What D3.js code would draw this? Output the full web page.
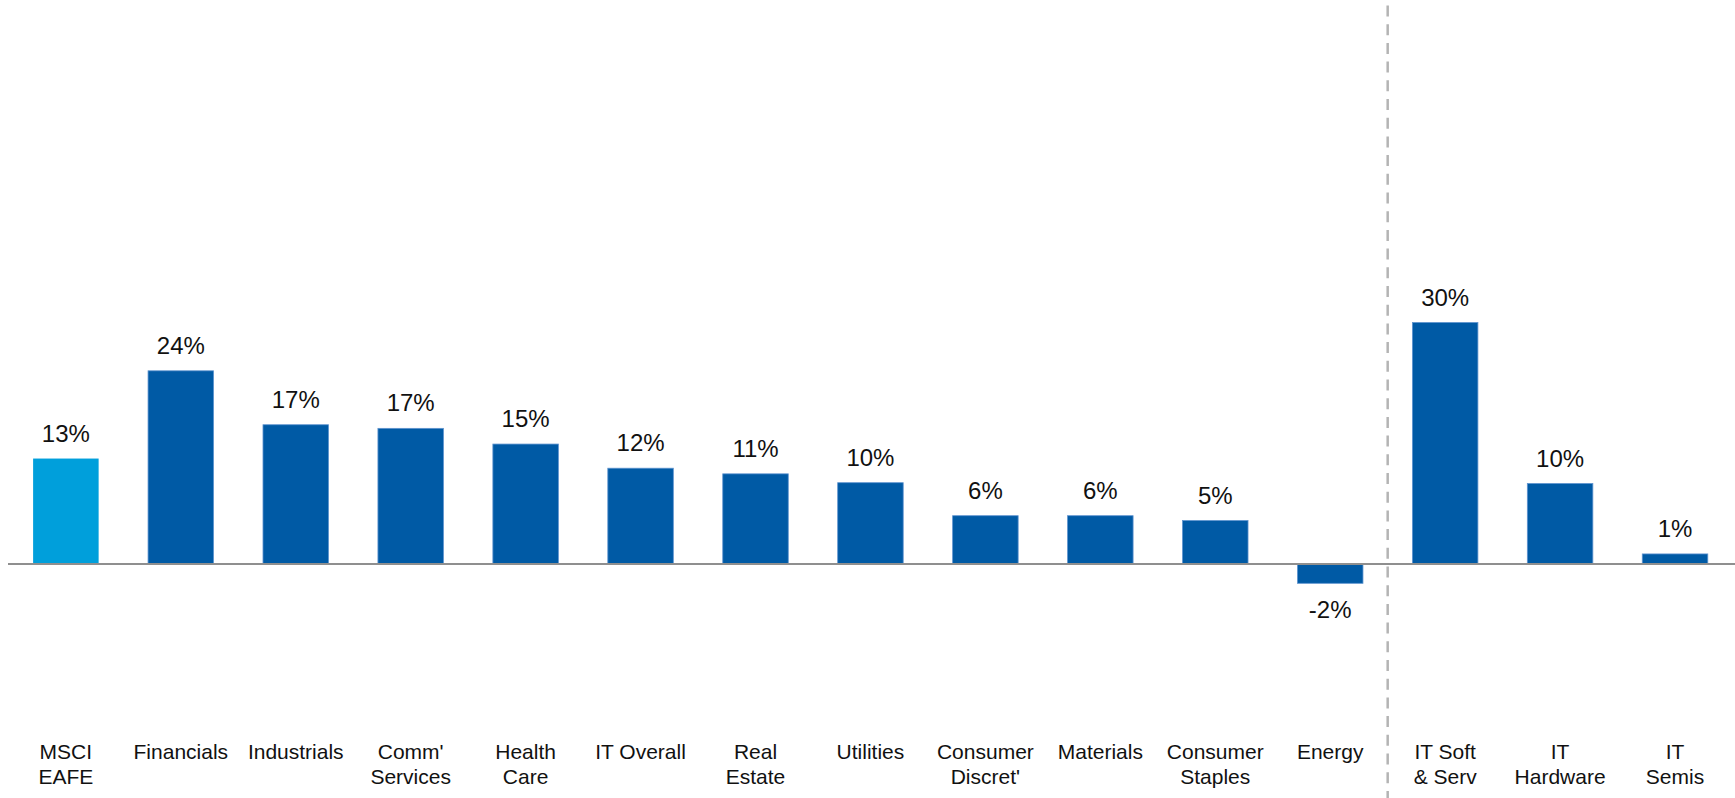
<!DOCTYPE html>
<html>
<head>
<meta charset="utf-8">
<script src="https://cdn.jsdelivr.net/npm/d3@7/dist/d3.min.js"></script>
<style>
  html, body { margin: 0; padding: 0; background: #fff; }
  svg { display: block; font-family: "Liberation Sans", Arial, sans-serif; }
</style>
</head>
<body>
<svg id="chart" width="1735" height="798"></svg>
<script>
// Sector categories (two-line labels split with "|")
const categories = [
  "MSCI|EAFE", "Financials", "Industrials", "Comm'|Services", "Health|Care",
  "IT Overall", "Real|Estate", "Utilities", "Consumer|Discret'", "Materials",
  "Consumer|Staples", "Energy", "IT Soft|& Serv", "IT|Hardware", "IT|Semis"
];

// Returns, in percent
const values = [13.1, 24.0, 17.3, 16.85, 14.9, 11.9, 11.2, 10.1, 6.0, 6.0, 5.4, -2.4, 30.0, 10.0, 1.25];

// The benchmark bar is drawn in a lighter blue
const benchmark = ["MSCI|EAFE"];

// The dashed divider sits before this category
const dividerBefore = "IT Soft|& Serv";

const svg = d3.select("#chart");
const W = 1735, H = 798;

const x = d3.scaleBand()
  .domain(categories)
  .range([8.4, 1732.5])
  .paddingInner(0.43)
  .paddingOuter(0.215);

const y = d3.scaleLinear()
  .domain([-5, 35])
  .range([564 + 5 * 8.05, 564 - 35 * 8.05]);

const data = categories.map((c, i) => ({ cat: c, v: values[i] }));

// Bars
svg.append("g")
  .selectAll("rect")
  .data(data)
  .join("rect")
  .attr("x", d => x(d.cat))
  .attr("width", x.bandwidth())
  .attr("y", d => y(Math.max(0, d.v)))
  .attr("height", d => Math.abs(y(d.v) - y(0)))
  .attr("fill", d => benchmark.includes(d.cat) ? "#009fdb" : "#005aa5")
  .attr("stroke", d => benchmark.includes(d.cat) ? "none" : "#5e93cf")
  .attr("stroke-width", 0.8);

// Zero line
svg.append("line")
  .attr("x1", 8).attr("x2", W)
  .attr("y1", y(0)).attr("y2", y(0))
  .attr("stroke", "#8f8f8f")
  .attr("stroke-width", 2);

// Divider between overall sectors and IT sub-industries
const xDiv = x(dividerBefore) - x.step() * x.paddingInner() / 2;
svg.append("line")
  .attr("x1", xDiv).attr("x2", xDiv)
  .attr("y1", 5.5).attr("y2", H)
  .attr("stroke", "#b4b4b4")
  .attr("stroke-width", 2.5)
  .attr("stroke-dasharray", "11,7.7");

// Value labels
svg.append("g")
  .selectAll("text")
  .data(data)
  .join("text")
  .attr("x", d => x(d.cat) + x.bandwidth() / 2)
  .attr("y", d => d.v >= 0 ? y(d.v) - 17 : y(d.v) + 35)
  .attr("text-anchor", "middle")
  .attr("font-size", 24)
  .attr("fill", "#111")
  .text(d => Math.round(d.v) + "%");

// Category labels
const labels = svg.append("g")
  .selectAll("text")
  .data(categories)
  .join("text")
  .attr("x", d => x(d) + x.bandwidth() / 2)
  .attr("y", 759)
  .attr("text-anchor", "middle")
  .attr("font-size", 21)
  .attr("fill", "#111");

labels.selectAll("tspan")
  .data(d => d.split("|").map(s => ({ s, px: x(d) + x.bandwidth() / 2 })))
  .join("tspan")
  .attr("x", t => t.px)
  .attr("dy", (t, i) => i === 0 ? 0 : 25)
  .text(t => t.s);
</script>
</body>
</html>
